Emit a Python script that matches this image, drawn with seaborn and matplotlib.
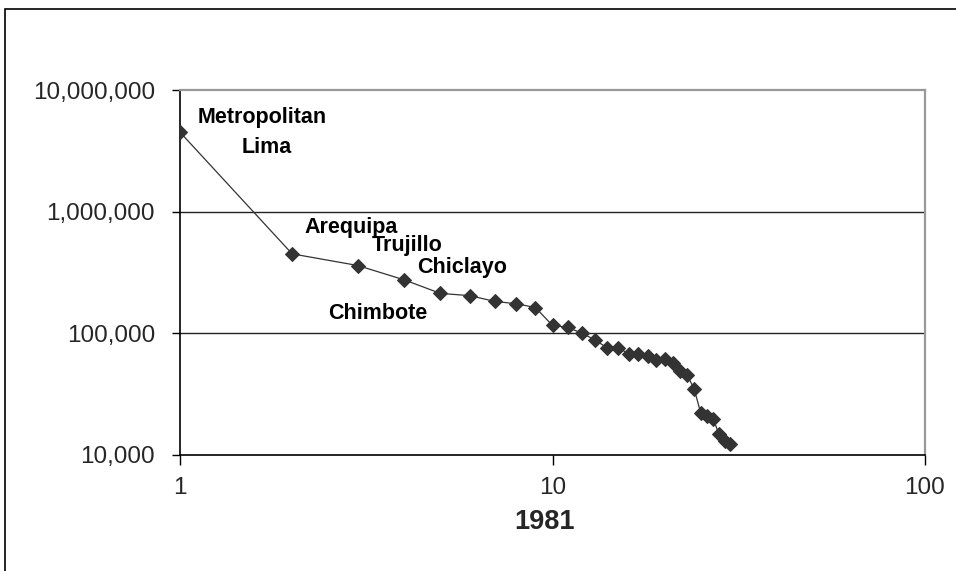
import matplotlib
matplotlib.use("Agg")
import matplotlib.pyplot as plt
import matplotlib.ticker as mticker
from matplotlib.patches import Rectangle
import seaborn as sns
import pandas as pd

# ---- data ----
ranks = list(range(1, 31))
population = [4500000, 450000, 361000, 275000, 213000, 204000, 183000, 175000,
              163000, 116000, 112000, 100000, 88500, 76000, 76000, 68200,
              68200, 65600, 60700, 61100, 57000, 49200, 45400, 34900,
              22200, 21100, 19800, 14800, 13100, 12200]
city_labels = ["Metropolitan", "Lima", "Arequipa", "Trujillo", "Chiclayo", "Chimbote"]
x_ticks = [1, 10, 100]
y_ticks = [10000, 100000, 1000000, 10000000]
year_label = "1981"

df = pd.DataFrame({"rank": ranks, "population": population})

sns.set_style("white")
plt.rcParams["font.family"] = ["Liberation Sans", "DejaVu Sans"]

W, H = 956, 571
fig = plt.figure(figsize=(W / 100, H / 100), dpi=100)
L, R, T, B = 180, 925, 90, 455
ax = fig.add_axes([L / W, 1 - B / H, (R - L) / W, (B - T) / H])

sns.lineplot(data=df, x="rank", y="population", ax=ax, color="#333333",
             linewidth=0.9, marker="D", markersize=7.2, markeredgecolor="#333333",
             markerfacecolor="#333333", zorder=3)

ax.set_xscale("log")
ax.set_yscale("log")
ax.set_xlim(1, 100)
ax.set_ylim(10000, 10000000)
ax.xaxis.set_major_locator(mticker.FixedLocator(x_ticks))
ax.yaxis.set_major_locator(mticker.FixedLocator(y_ticks))
ax.xaxis.set_minor_locator(mticker.NullLocator())
ax.yaxis.set_minor_locator(mticker.NullLocator())
ax.xaxis.set_major_formatter(mticker.FuncFormatter(lambda v, p: f"{v:,.0f}"))
ax.yaxis.set_major_formatter(mticker.FuncFormatter(lambda v, p: f"{v:,.0f}"))
ax.tick_params(axis="y", which="major", direction="out", length=6, width=1,
               color="black", labelsize=17.5, pad=12, left=True)
ax.tick_params(axis="x", which="major", direction="out", length=7, width=1,
               color="black", labelsize=17.5, pad=9, bottom=True)
ax.set_xlabel("")
ax.set_ylabel("")

# horizontal gridlines (interior only)
for yv in y_ticks[1:-1]:
    ax.axhline(yv, color="#222222", linewidth=1.0, zorder=1)

for side in ["left", "bottom"]:
    ax.spines[side].set_color("black")
    ax.spines[side].set_linewidth(1.2)
for side in ["top", "right"]:
    ax.spines[side].set_color("#999999")
    ax.spines[side].set_linewidth(1.6)

# city annotations (pixel positions -> axes fraction)
def afrac(px, py):
    return ((px - L) / (R - L), (B - py) / (B - T))

ann_pos = [(198, 123), (242, 153), (304, 233), (372, 251), (417, 273), (328, 319)]
for txt, (px, py) in zip(city_labels, ann_pos):
    fx, fy = afrac(px, py)
    ax.text(fx, fy, txt, transform=ax.transAxes, ha="left", va="baseline",
            fontsize=15.5, fontweight="bold", color="black")

fig.text(545 / W, 1 - 522 / H, year_label, ha="center", va="center",
         fontsize=19.5, fontweight="bold")

# outer chart border
fig.patches.append(Rectangle((4.5 / W, -0.1), 1.2, 1 - 8.5 / H + 0.1,
                             transform=fig.transFigure, fill=False,
                             edgecolor="black", linewidth=1.2, clip_on=False))

fig.savefig("out.png", dpi=100)
